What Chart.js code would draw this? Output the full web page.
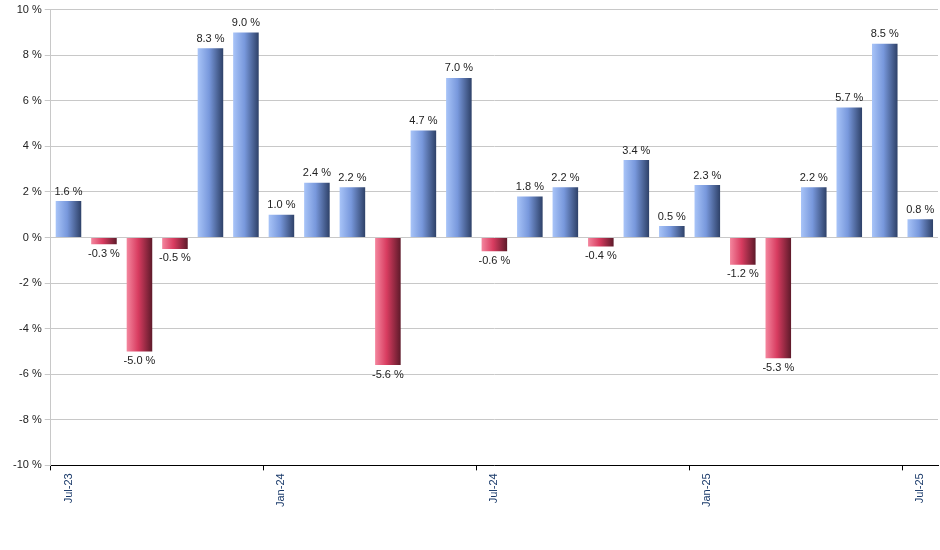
<!DOCTYPE html>
<html>
<head>
<meta charset="utf-8">
<script src="https://cdn.jsdelivr.net/npm/chart.js@4"></script>
<style>
  body { margin: 0; background: #fff; }
  #wrap { width: 940px; height: 550px; }
</style>
</head>
<body>
<div id="wrap"><canvas id="myChart"></canvas></div>
<script>
const months = ['Jul-23','Aug-23','Sep-23','Oct-23','Nov-23','Dec-23','Jan-24','Feb-24','Mar-24','Apr-24','May-24','Jun-24',
    'Jul-24','Aug-24','Sep-24','Oct-24','Nov-24','Dec-24','Jan-25','Feb-25','Mar-25','Apr-25','May-25','Jun-25','Jul-25'];
const returns = [1.6, -0.3, -5.0, -0.5, 8.3, 9.0, 1.0, 2.4, 2.2, -5.6, 4.7, 7.0,
    -0.6, 1.8, 2.2, -0.4, 3.4, 0.5, 2.3, -1.2, -5.3, 2.2, 5.7, 8.5, 0.8];
const shownTicks = ['Jul-23', 'Jan-24', 'Jul-24', 'Jan-25', 'Jul-25'];

// horizontal gradient per bar
const barFill = (c) => {
    const chart = c.chart;
    const xs = chart.scales.x;
    const v = returns[c.dataIndex];
    if (!xs || !chart.chartArea) return v >= 0 ? '#6f8fd0' : '#d0405f';
    const cx = xs.getPixelForValue(c.dataIndex);
    const half = xs.width / months.length * 0.72 / 2;
    const g = chart.ctx.createLinearGradient(cx - half, 0, cx + half, 0);
    if (v >= 0) {
        g.addColorStop(0, '#a8c4f8');
        g.addColorStop(0.45, '#7898dc');
        g.addColorStop(1, '#2e4168');
    } else {
        g.addColorStop(0, '#f4869e');
        g.addColorStop(0.45, '#d83c60');
        g.addColorStop(1, '#5e1a2a');
    }
    return g;
};

const valueLabels = {
    id: 'valueLabels',
    afterDatasetsDraw(chart) {
        const ctx = chart.ctx;
        const meta = chart.getDatasetMeta(0);
        ctx.save();
        ctx.font = '11px Arial, "Liberation Sans"';
        ctx.fillStyle = '#222';
        ctx.textAlign = 'center';
        meta.data.forEach((bar, i) => {
            const v = returns[i];
            const txt = v.toFixed(1) + ' %';
            if (v >= 0) {
                ctx.textBaseline = 'bottom';
                ctx.fillText(txt, bar.x, bar.y - 4);
            } else {
                ctx.textBaseline = 'top';
                ctx.fillText(txt, bar.x, bar.y + 4);
            }
        });
        ctx.restore();
    }
};

new Chart(document.getElementById('myChart'), {
    type: 'bar',
    data: {
        labels: months,
        datasets: [{
            data: returns,
            backgroundColor: barFill,
            categoryPercentage: 0.8,
            barPercentage: 0.9
        }]
    },
    options: {
        responsive: true,
        maintainAspectRatio: false,
        animation: false,
        layout: { padding: { top: 4, right: 2, bottom: 40, left: 10 } },
        plugins: { legend: { display: false }, tooltip: { enabled: false } },
        scales: {
            x: {
                grid: {
                    drawOnChartArea: false,
                    color: (c) => shownTicks.includes(months[c.index]) ? '#000' : 'rgba(0,0,0,0)',
                    tickLength: 5
                },
                border: { color: '#000' },
                ticks: {
                    autoSkip: false,
                    maxRotation: 90,
                    minRotation: 90,
                    color: '#1a3a6a',
                    font: { size: 11, family: 'Arial, "Liberation Sans"' },
                    callback: (val, i) => shownTicks.includes(months[i]) ? months[i] : ''
                }
            },
            y: {
                min: -10,
                max: 10,
                ticks: {
                    stepSize: 2,
                    color: '#222',
                    font: { size: 11, family: 'Arial, "Liberation Sans"' },
                    callback: (v) => v + ' %'
                },
                grid: { color: '#c8c8c8', tickLength: 6 },
                border: { color: '#c8c8c8' }
            }
        }
    },
    plugins: [valueLabels]
});
</script>
</body>
</html>
